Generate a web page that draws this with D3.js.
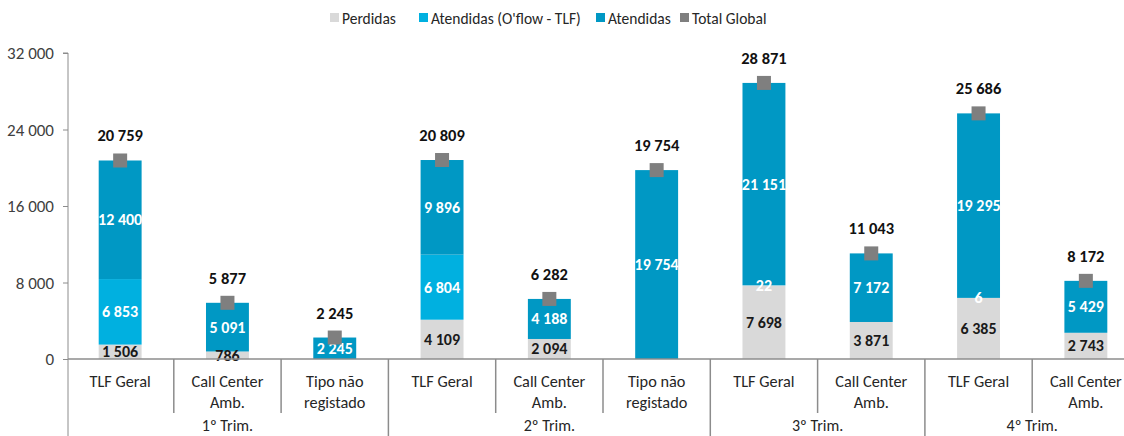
<!DOCTYPE html>
<html>
<head>
<meta charset="utf-8">
<script src="https://cdn.jsdelivr.net/npm/d3@7"></script>
<style>
body{margin:0;background:#fff;}
text{font-family:Carlito,Lato,"Open Sans",sans-serif;}
</style>
</head>
<body>
<div id="vis"></div>
<script>
// categories (two lines per label) and the trimester groups
var categories = [["TLF Geral"],["Call Center","Amb."],["Tipo não","registado"],["TLF Geral"],["Call Center","Amb."],["Tipo não","registado"],["TLF Geral"],["Call Center","Amb."],["TLF Geral"],["Call Center","Amb."]];
var trimesters = ["1º Trim.","2º Trim.","3º Trim.","4º Trim."];
var trimSize = [3,3,2,2];
// series
var perdidas = [1506,786,0,4109,2094,0,7698,3871,6385,2743];
var oflow = [6853,0,0,6804,0,0,22,0,6,0];
var atendidas = [12400,5091,2245,9896,4188,19754,21151,7172,19295,5429];
var totalGlobal = [20759,5877,2245,20809,6282,19754,28871,11043,25686,8172];
var yTicks = [0,8000,16000,24000,32000];
var legendNames = ["Perdidas","Atendidas (O'flow - TLF)","Atendidas","Total Global"];
var colors = ["#d9d9d9","#00b0e0","#0098c4","#7f7f7f"];

var W = 1124, H = 436;
var svg = d3.select("#vis").append("svg").attr("width",W).attr("height",H);

var fmt = d3.formatLocale({decimal:",",thousands:" ",grouping:[3],currency:["",""]}).format(",d");

var idx = d3.range(categories.length);
var x = d3.scaleBand().domain(idx).range([66.5,1139.5]).paddingInner(0.6).paddingOuter(0.3);
var y = d3.scaleLinear().domain([0,32000]).range([359,53]);
var step = x.step();
function left(i){return x(i) + x.bandwidth()/2 - step/2;}

// stacked data
var rows = idx.map(function(i){return {i:i, s0:perdidas[i], s1:oflow[i], s2:atendidas[i]};});
var stack = d3.stack().keys(["s0","s1","s2"])(rows);

stack.forEach(function(layer, k){
    svg.append("g").selectAll("rect").data(layer).enter().append("rect")
        .attr("x", function(d){return x(d.data.i);})
        .attr("y", function(d){return y(d[1]);})
        .attr("width", x.bandwidth())
        .attr("height", function(d){return y(d[0]) - y(d[1]);})
        .attr("fill", colors[k]);
});
// labels inside bars
stack.forEach(function(layer, k){
    svg.append("g").selectAll("text").data(layer.filter(function(d){return d[1]-d[0] > 0;})).enter().append("text")
        .text(function(d){return fmt(d[1]-d[0]);})
        .attr("x", function(d){return x(d.data.i) + x.bandwidth()/2;})
        .attr("y", function(d){return (y(d[0]) + y(d[1]))/2 + 5.5;})
        .attr("text-anchor","middle")
        .attr("font-size","16px").attr("font-weight","bold")
        .attr("fill", k == 0 ? "#1a1a1a" : "#ffffff");
});

// total global markers + labels
svg.append("g").selectAll("rect").data(idx).enter().append("rect")
    .attr("x", function(i){return x(i) + x.bandwidth()/2 - 7;})
    .attr("y", function(i){return y(totalGlobal[i]) - 7;})
    .attr("width",14).attr("height",14)
    .attr("fill", colors[3]);
svg.append("g").selectAll("text").data(idx).enter().append("text")
    .text(function(i){return fmt(totalGlobal[i]);})
    .attr("x", function(i){return x(i) + x.bandwidth()/2;})
    .attr("y", function(i){return y(totalGlobal[i]) - 19;})
    .attr("text-anchor","middle")
    .attr("font-size","16.5px").attr("font-weight","bold").attr("fill","#111");

// y axis
var yAxis = d3.axisLeft(y).tickValues(yTicks).tickSize(5).tickFormat(fmt);
var ga = svg.append("g").attr("transform","translate(68,0)").call(yAxis);
ga.select(".domain").attr("stroke","#8c8c8c").attr("d","M-5,53H0V436");
ga.selectAll(".tick line").attr("stroke","#8c8c8c");
ga.selectAll(".tick text").attr("font-size","17px").attr("fill","#404040").attr("x",-14).attr("dy","0.34em").style("font-family","Carlito,Lato,sans-serif");

// x axis baseline
svg.append("line").attr("x1",68).attr("x2",W).attr("y1",359).attr("y2",359).attr("stroke","#8c8c8c").attr("stroke-width",1.5);

// separators: short for categories, long for trimester boundaries
var bounds = [0];
trimSize.forEach(function(n){bounds.push(bounds[bounds.length-1] + n);});
idx.slice(1).forEach(function(i){
    var long = bounds.indexOf(i) >= 0;
    svg.append("line")
        .attr("x1", left(i)).attr("x2", left(i))
        .attr("y1", 359).attr("y2", long ? H : 413)
        .attr("stroke","#8c8c8c").attr("stroke-width",1.5);
});

// category labels
idx.forEach(function(i){
    categories[i].forEach(function(line, j){
        svg.append("text").text(line)
            .attr("x", x(i) + x.bandwidth()/2)
            .attr("y", 387 + j*21)
            .attr("text-anchor","middle")
            .attr("font-size","16.3px").attr("fill","#262626");
    });
});
// trimester labels
trimesters.forEach(function(t, k){
    var x0 = left(bounds[k]), x1 = left(bounds[k]) + step*trimSize[k];
    svg.append("text").text(t)
        .attr("x", (x0 + x1)/2).attr("y", 431)
        .attr("text-anchor","middle")
        .attr("font-size","16px").attr("fill","#262626");
});

// legend
var legX = [330, 419, 596, 680];
legendNames.forEach(function(n, k){
    var g = svg.append("g").attr("transform","translate(" + legX[k] + ",18)");
    g.append("rect").attr("x",0).attr("y",-5).attr("width",9).attr("height",9).attr("fill",colors[k]);
    g.append("text").text(n).attr("x",12).attr("y",5.5).attr("font-size","15.5px").attr("fill","#262626");
});
</script>
</body>
</html>
